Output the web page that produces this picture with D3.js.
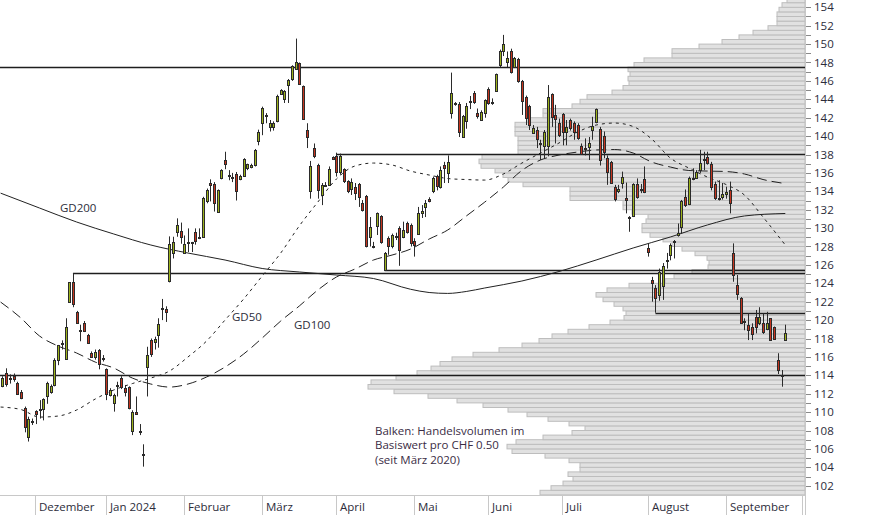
<!DOCTYPE html>
<html><head><meta charset="utf-8">
<script src="https://cdn.jsdelivr.net/npm/d3@7"></script>
<style>html,body{margin:0;padding:0;background:#fff;}svg{display:block;font-family:"Open Sans",sans-serif;}</style>
</head><body><svg id="c" width="874" height="515"></svg>
<script>
// ---------- DATA ----------
const monthLabels = ["", "Dezember", "Jan 2024", "Februar", "März", "April", "Mai", "Juni", "Juli", "August", "September"];
const monthTradingDays = [9, 19, 21, 21, 20, 21, 20, 20, 23, 21, 21];

const opens = [112.8,114.3,113.6,113.9,113.2,112.2,110.4,107.3,108.9,110.1,
110.2,110.3,111.8,112.2,112.95,115.7,117.4,115.8,122.0,124.1,
120.9,118.9,119.7,118.4,116.4,116.0,116.75,115.9,114.65,111.9,
111.0,113.0,113.7,112.66,112.7,107.9,110.0,108.0,105.4,114.9,
117.8,117.6,118.4,121.2,121.2,124.2,127.3,129.6,129.7,127.3,
128.4,128.5,129.6,128.95,129.07,133.0,134.9,134.8,131.8,135.5,
137.4,135.8,135.6,135.9,135.3,135.7,136.5,136.6,136.86,139.5,
141.4,142.3,140.95,140.95,141.6,144.6,144.0,145.55,146.2,147.3,
147.9,145.4,140.66,134.0,138.7,136.9,133.6,134.6,134.7,137.7,
137.84,136.1,136.4,135.1,134.2,134.5,134.76,132.7,133.5,129.07,
128.0,130.2,131.3,125.45,128.9,128.05,129.1,130.0,129.0,130.6,
130.3,128.6,129.4,131.6,132.3,133.2,134.0,135.66,134.5,136.9,
136.0,142.5,143.6,143.5,139.94,141.6,143.7,144.7,142.5,141.75,
142.55,145.1,143.7,144.94,147.7,149.3,148.0,149.3,147.5,148.34,
146.0,144.3,143.3,140.37,140.7,139.3,138.9,138.9,144.57,142.3,
141.4,142.4,140.5,141.8,141.4,141.2,138.9,138.6,138.8,140.7,
141.5,140.8,140.0,137.6,137.15,134.43,134.0,134.87,133.3,131.25,
131.3,134.8,134.1,135.3,127.8,124.36,123.45,122.7,123.7,126.45,
127.07,128.5,129.3,130.1,133.35,132.6,135.4,135.5,136.3,137.4,
137.77,136.97,134.8,133.25,133.35,133.7,134.14,127.25,123.8,122.36,
119.9,119.46,119.2,120.3,119.7,119.7,119.0,120.2,119.2,115.66,
114.0,117.83];
const highs = [113.9,114.76,114.1,114.2,113.3,112.4,110.6,109.5,109.3,110.2,
111.3,111.5,113.3,113.0,115.85,117.3,117.8,120.2,124.1,125.1,
121.0,119.5,119.9,118.5,116.6,116.8,116.85,116.2,114.75,112.6,
112.0,113.3,113.9,112.95,112.8,110.2,111.7,108.7,106.5,117.1,
118.0,118.2,120.2,122.3,121.5,129.1,129.06,131.06,130.6,129.2,
129.97,128.5,129.97,129.97,133.4,134.3,135.3,135.0,134.2,136.4,
138.3,136.3,136.0,136.1,135.8,137.6,137.0,137.0,138.6,140.7,
143.2,142.5,141.75,141.6,144.5,145.1,145.0,146.2,147.7,150.6,
148.0,145.5,141.4,137.3,139.2,137.0,134.9,135.0,136.7,137.8,
138.2,138.1,136.5,135.2,135.4,134.9,134.9,133.05,133.6,131.2,
128.5,131.7,131.4,127.4,129.1,129.4,129.5,130.2,130.7,130.7,
130.5,128.9,132.3,132.5,133.05,133.35,135.6,135.8,136.7,137.2,
137.9,146.9,143.7,143.7,142.3,143.6,144.36,144.9,143.0,142.8,
144.0,145.3,144.1,146.8,149.4,151.0,149.2,149.5,148.6,148.5,
146.1,144.4,143.4,141.2,141.0,139.6,140.66,145.55,144.65,143.4,
141.9,142.5,141.75,141.9,141.6,141.4,139.2,139.75,139.9,142.1,
143.0,141.0,140.5,137.9,137.3,134.7,134.7,136.14,134.95,131.3,
134.87,135.4,134.8,136.7,128.35,124.7,123.8,125.6,126.2,127.3,
128.34,128.7,130.5,133.06,134.2,135.6,136.5,136.3,138.5,138.3,
138.3,137.2,135.05,135.2,134.9,134.5,135.05,128.34,124.9,122.5,
120.2,120.73,119.65,121.1,121.4,120.73,120.9,120.2,119.3,116.4,
114.57,119.5];
const lows = [112.7,112.77,113.1,113.3,112.0,111.4,107.8,106.8,108.6,108.7,
109.3,109.1,110.9,112.0,112.8,115.1,116.8,115.7,121.9,121.4,
119.6,117.7,118.7,117.4,115.9,115.7,114.65,115.5,111.3,111.7,
110.05,111.7,112.5,111.7,110.3,107.5,109.7,107.5,104.07,111.7,
116.0,116.8,117.0,120.0,119.8,124.1,126.7,129.06,128.3,127.3,
127.4,127.4,128.2,128.8,129.0,132.7,132.9,131.8,131.7,135.3,
136.4,135.2,135.0,133.0,135.2,135.6,136.3,136.5,136.7,139.0,
140.1,141.4,140.5,140.6,141.5,144.5,143.6,143.6,146.0,147.2,
145.6,141.8,138.7,133.2,137.6,133.2,132.5,134.5,134.6,137.4,
135.6,135.8,134.9,133.8,133.6,133.05,132.3,131.8,127.9,128.0,
127.8,129.25,128.3,125.4,127.1,127.8,128.7,125.9,128.9,129.4,
128.0,126.9,129.25,131.1,131.2,132.8,133.8,134.1,134.3,134.9,
134.9,141.9,143.3,139.9,139.8,140.8,142.94,143.5,141.9,141.75,
142.0,143.4,143.4,144.8,147.5,148.7,147.5,146.8,147.4,145.8,
142.3,141.2,140.66,140.3,138.7,137.4,137.6,137.8,141.0,139.2,
139.9,139.0,139.0,140.6,139.6,139.6,138.0,137.9,137.4,139.6,
141.4,136.8,137.6,134.7,134.8,132.9,133.8,134.3,131.6,129.6,
131.2,133.2,133.8,133.8,126.9,122.0,120.8,122.1,122.2,125.6,
126.5,126.7,129.07,129.4,132.3,132.5,135.2,135.4,136.0,136.3,
136.9,134.1,133.06,133.0,133.1,133.2,131.6,124.17,122.2,119.6,
118.9,117.83,117.83,118.56,119.46,118.5,118.9,117.76,117.98,114.14,
112.76,117.83];
const closes = [113.7,113.1,113.7,113.55,112.0,111.5,108.4,109.3,109.05,109.8,
110.3,111.4,113.2,112.8,115.7,117.3,117.5,119.2,124.1,121.8,
119.7,118.8,118.85,117.5,116.0,116.5,115.2,115.8,112.0,112.4,
111.9,112.9,112.7,112.2,110.4,110.05,109.8,107.9,105.3,116.2,
116.3,117.9,119.6,121.35,120.9,128.3,128.5,130.3,129.0,128.3,
128.5,128.4,128.6,129.05,133.3,134.1,134.7,132.7,134.1,136.3,
137.0,135.7,135.5,134.0,135.7,137.5,137.0,136.85,138.5,140.4,
143.1,142.2,141.4,141.45,144.4,145.0,144.9,146.1,147.6,148.0,
145.7,141.9,139.87,136.7,137.8,134.1,134.7,134.7,136.4,137.5,
136.1,137.8,135.1,134.0,135.05,133.8,133.4,132.0,128.0,130.1,
127.95,131.6,128.45,127.26,128.0,129.25,129.0,127.6,129.8,129.6,
128.4,128.2,131.6,131.9,132.7,132.9,135.4,134.6,136.3,136.5,
137.2,144.7,143.45,140.5,142.2,143.3,143.8,143.75,142.2,142.65,
143.9,143.6,143.6,146.75,149.2,150.0,148.45,147.0,148.45,146.0,
143.85,142.0,141.2,140.84,139.65,139.1,140.4,144.2,142.1,141.9,
140.1,140.5,141.0,140.84,140.5,139.75,138.1,138.7,139.2,141.1,
142.9,137.4,138.3,136.1,134.9,133.13,134.3,135.6,133.1,131.2,
134.76,133.35,134.2,133.96,127.45,124.07,122.36,125.26,125.9,126.55,
128.16,128.6,129.45,133.0,132.5,135.4,135.45,136.06,137.1,137.55,
137.04,134.5,133.3,133.15,133.7,133.9,132.7,124.9,122.8,119.65,
119.8,118.9,118.5,119.3,120.3,118.74,119.65,117.83,118.0,114.57,
113.95,118.56];

const gdDays = [-0.5,5,10,15,20,25,30,35,40,45,50,55,60,65,70,75,80,85,90,95,100,105,110,115,120,125,130,135,140,145,150,155,160,165,170,175,180,185,190,195,200,205,211];
const gd50 = [110.55,110.28,109.46,109.57,110.23,111.42,112.40,113.1,113.7,114.46,115.99,117.72,120.01,122.29,124.79,127.29,130.23,132.83,135.33,136.75,137.07,136.86,136.2,135.77,135.39,135.28,135.22,135.88,137.07,138.16,139.25,140.44,141.2,141.42,141.04,139.68,137.62,136.53,135.55,134.74,133.59,131.2,128.16];
const gd100 = [121.96,120.22,118.27,117.18,116.42,115.44,114.79,113.7,113.05,112.72,113.05,113.81,114.9,116.31,118.05,119.9,121.53,123.27,124.68,125.55,126.53,127.07,127.72,128.81,129.79,131.31,132.83,134.46,136.27,137.4,137.94,138.27,138.49,138.54,138.16,137.18,136.64,136.26,136.2,136.15,135.88,135.28,134.84];
const gd200Days = [-0.5,10,20,30,40,50,60,70,80,90,100,110,115,120,125,130,140,150,160,170,180,190,200,211];
const gd200 = [133.8,132.18,130.66,129.36,128.16,127.29,126.53,125.61,125.23,124.9,124.52,123.35,123.0,122.9,123.11,123.49,124.25,125.28,126.53,127.84,129.03,130.34,131.32,131.59];

const levelPrices = [147.5, 138.1, 125.4, 125.1, 120.8, 114.0];
const levelStartDays = [-0.5, 90, 103, 19, 176, -0.5];

const profileStart = 101, profileStep = 0.5;
const profileVolumes = [265,254,242,232,237,225,225,236,260,293,
298,289,262,233,220,236,257,278,297,322,
348,377,411,437,434,409,388,374,365,353,
332,306,283,266,253,237,216,195,181,179,
182,191,202,209,198,176,140,131,113,97,
96,98,110,123,133,142,155,163,163,159,
157,173,182,182,235,235,235,282,297,302,
310,324,326,323,287,287,287,287,290,290,
290,278,262,262,233,225,218,193,182,176,
177,175,177,171,161,133,133,106,83,66,
52,37,28,28,28,26,23,18];

const yTickValues = [102,104,106,108,110,112,114,116,118,120,122,124,126,128,130,132,134,136,138,140,142,144,146,148,150,152,154];
const maLabels = ["GD200", "GD50", "GD100"];
const noteLines = ["Balken: Handelsvolumen im", "Basiswert pro CHF 0.50", "(seit März 2020)"];

// ---------- CHART ----------
const svg = d3.select("#c");
const plotRight = 805, axisY = 495;
const totalDays = d3.sum(monthTradingDays);
const x = d3.scaleLinear().domain([0, totalDays]).range([0.6, 802]);
const xc = i => x(i + 0.5);
const y = d3.scaleLinear().domain([101, 154]).range([494.9, 7.3]);
const v = d3.scaleLinear().domain([0, 800]).range([plotRight, plotRight - 800]);

// volume profile
const gP = svg.append("g");
profileVolumes.forEach((vol, k) => {
  const b = profileStart + k * profileStep;
  gP.append("rect")
    .attr("x", v(vol)).attr("y", y(b + profileStep))
    .attr("width", plotRight - v(vol)).attr("height", y(b) - y(b + profileStep))
    .attr("fill", "#e1e1e1").attr("stroke", "#bdbdbd").attr("stroke-width", 1);
});

// axes frame
svg.append("line").attr("x1", 0).attr("x2", plotRight).attr("y1", axisY + 0.5).attr("y2", axisY + 0.5)
  .attr("stroke", "#c8c8c8");
svg.append("line").attr("x1", plotRight + 0.5).attr("x2", plotRight + 0.5).attr("y1", 0).attr("y2", 515)
  .attr("stroke", "#c8c8c8");

// month separators and labels
let cum = 0;
const starts = monthTradingDays.map(d => { const s = cum; cum += d; return s; });
starts.forEach((s, m) => {
  if (m === 0) return;
  const sx = Math.round(xc(s) - 0.4) + 0.5;
  svg.append("line").attr("x1", sx).attr("x2", sx).attr("y1", axisY).attr("y2", 515).attr("stroke", "#c8c8c8");
  svg.append("text").attr("x", sx + 3.5).attr("y", 511).attr("font-size", 11.5).attr("fill", "#2c2c3a")
    .text(monthLabels[m]);
});
{
  const ex = Math.round(x(totalDays)) + 0.5;
  svg.append("line").attr("x1", ex).attr("x2", ex).attr("y1", axisY).attr("y2", 515).attr("stroke", "#c8c8c8");
}

// y ticks
d3.range(102, 155, 1).forEach(t => {
  const ty = Math.round(y(t)) + 0.5;
  svg.append("line").attr("x1", plotRight + 1).attr("x2", plotRight + 6).attr("y1", ty).attr("y2", ty)
    .attr("stroke", "#888");
});
yTickValues.forEach(t => {
  svg.append("text").attr("x", 814).attr("y", y(t)).attr("dy", "0.36em").attr("font-size", 11.5)
    .attr("fill", "#2c2c3a").text(t);
});

// level lines
levelPrices.forEach((p, k) => {
  const ly = Math.round(y(p)) + 0.5;
  const sx = levelStartDays[k] < 0 ? 0 : xc(levelStartDays[k]);
  svg.append("line").attr("x1", sx).attr("x2", plotRight).attr("y1", ly).attr("y2", ly)
    .attr("stroke", "#1e1e1e").attr("stroke-width", 1.3);
});

// moving averages
const lineGen = d3.line().x(d => xc(d[0])).y(d => y(d[1])).curve(d3.curveMonotoneX);
svg.append("path").attr("d", lineGen(gd200Days.map((d, k) => [d, gd200[k]])))
  .attr("fill", "none").attr("stroke", "#222").attr("stroke-width", 1);
svg.append("path").attr("d", lineGen(gdDays.map((d, k) => [d, gd100[k]])))
  .attr("fill", "none").attr("stroke", "#222").attr("stroke-width", 1).attr("stroke-dasharray", "10,5");
svg.append("path").attr("d", lineGen(gdDays.map((d, k) => [d, gd50[k]])))
  .attr("fill", "none").attr("stroke", "#222").attr("stroke-width", 1).attr("stroke-dasharray", "3,4");

// MA labels
const labelPos = [[60, 212], [232, 321], [294, 329]];
maLabels.forEach((t, k) => {
  svg.append("text").attr("x", labelPos[k][0]).attr("y", labelPos[k][1]).attr("font-size", 11.5)
    .attr("fill", "#2c2c3a").text(t);
});

// candles
const gC = svg.append("g");
opens.forEach((o, i) => {
  const c = closes[i];
  const cx = Math.round(xc(i)) + 0.5;
  gC.append("line").attr("x1", cx).attr("x2", cx).attr("y1", y(highs[i])).attr("y2", y(lows[i]))
    .attr("stroke", "#2b2b2b").attr("stroke-width", 1);
  const top = Math.round(y(Math.max(o, c))), bot = Math.round(y(Math.min(o, c)));
  gC.append("rect").attr("x", cx - 1).attr("y", top + 0.5).attr("width", 2).attr("height", Math.max(1, bot - top))
    .attr("fill", c >= o ? "#9cb21c" : "#c5351f").attr("stroke", "#2b2b2b").attr("stroke-width", 1);
});

// note
noteLines.forEach((t, k) => {
  svg.append("text").attr("x", 375).attr("y", 435 + k * 14.3).attr("font-size", 11.5)
    .attr("fill", "#3a2c44").text(t);
});
</script></body></html>
